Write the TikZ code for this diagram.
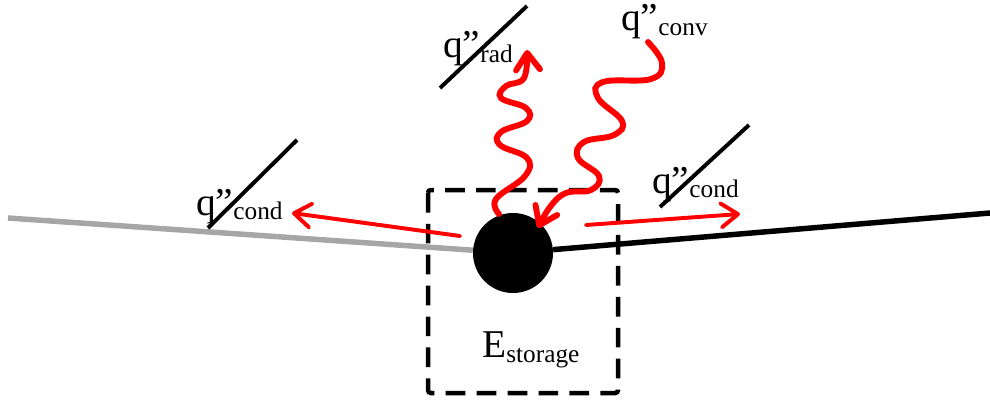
\documentclass[tikz,border=0pt]{standalone}
\usepackage{fontspec}
\setmainfont{Liberation Serif}
\usetikzlibrary{calc,arrows.meta}

\newcommand{\qflux}[1]{\fontsize{28}{30}\selectfont q''\raisebox{-3.5pt}{\fontsize{18}{19}\selectfont #1}}

\begin{document}
\begin{tikzpicture}[x=0.025cm,y=-0.025cm,>={Straight Barb[length=12pt,width=17pt,round]},
    wire/.style={line width=3.9pt},
    heat/.style={draw=red,line width=2.8pt,line cap=round,->},
    wave/.style={draw=red,line width=4.2pt,line cap=round,->},
    slash/.style={line width=2.8pt},
    lbl/.style={inner sep=0pt,anchor=base west}]
        \useasboundingbox (0,0) rectangle (990,400);
        % control volume
        \draw[line width=3.2pt,dash pattern=on 14pt off 8pt,rounded corners=2pt] (428,190) rectangle (618,393);
        \node[circle,fill=black,minimum size=2cm,inner sep=0pt] (ball) at (513,253) {};
        \coordinate (wallL) at (8,218);
        \coordinate (wallR) at (990,213);
        \draw[wire,gray!70] (wallL) -- (ball);
        \draw[wire] (ball) -- (wallR);
        % conduction
        \coordinate (condLa) at (460,236);
        \coordinate (condLb) at (292,213);
        \coordinate (condRa) at (586,225);
        \coordinate (condRb) at (740,214);
        \draw[heat] (condLa) -- (condLb);
        \draw[heat] (condRa) -- (condRb);
        % radiation and convection
        \draw[wave] plot[smooth,tension=0.7] coordinates {(499,214) (496,199) (525,176) (527,158) (500,145) (501,132) (527,121) (526,108) (501,98) (506,86) (524,78) (527,50)};
        \draw[wave] plot[smooth,tension=0.7] coordinates {(648,42) (662,63) (651,79) (603,82) (598,98) (622,121) (614,135) (584,142) (578,158) (599,176) (591,190) (566,193) (550,207) (538,228)};
        % labels
        \node[lbl] (qrad) at (443,58) {\qflux{rad}};
        \node[lbl] (qconv) at (621,31) {\qflux{conv}};
        \node[lbl] (qcondL) at (196,215) {\qflux{cond}};
        \node[lbl] (qcondR) at (652,193) {\qflux{cond}};
        \node[lbl] (estore) at (482,357) {\fontsize{28}{30}\selectfont E\raisebox{-4pt}{\fontsize{18}{19}\selectfont storage}};
        \draw[slash] (440,88) -- (527,6);
        \draw[slash] (208,228) -- (297,140);
        \draw[slash] (660,207) -- (749,125);
      \end{tikzpicture}
\end{document}
